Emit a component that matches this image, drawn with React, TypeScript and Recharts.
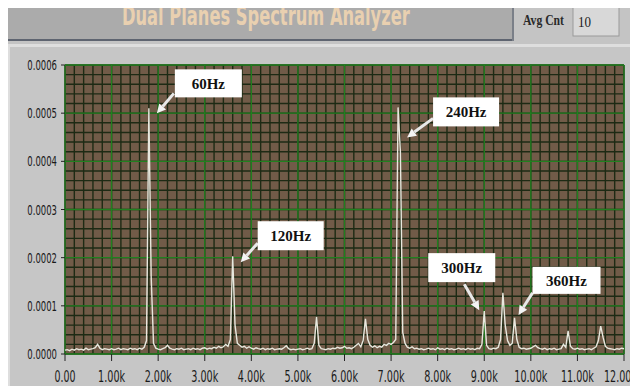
import { useLayoutEffect, useRef, useState } from "react";
import { LineChart, Line, XAxis, YAxis, CartesianGrid, ReferenceDot } from "recharts";

// spectrum sampled every 50 Hz from 0 to 12 kHz, amplitude in units of 1e-6
const STEP_HZ = 50;
const amplitudeMicro = [
  // 0 - 950
  8, 9, 7, 10, 8, 11, 9, 10, 8, 12, 9, 10, 11, 13, 20, 12, 9, 11, 10, 9,
  // 1000 - 1950
  11, 9, 10, 12, 9, 11, 10, 9, 12, 10, 11, 9, 12, 10, 14, 28, 510, 160, 22, 12,
  // 2000 - 2950
  10, 9, 11, 13, 18, 12, 10, 9, 11, 10, 12, 9, 10, 11, 9, 12, 10, 11, 9, 12,
  // 3000 - 3950
  13, 10, 12, 11, 14, 12, 16, 13, 15, 20, 16, 30, 203, 60, 22, 18, 14, 16, 12, 15,
  // 4000 - 4950
  12, 10, 13, 11, 10, 12, 9, 11, 10, 12, 9, 10, 11, 10, 13, 17, 11, 9, 10, 9,
  // 5000 - 5950
  10, 11, 9, 10, 12, 10, 11, 22, 77, 18, 11, 10, 9, 11, 10, 12, 11, 14, 12, 13,
  // 6000 - 6950
  16, 12, 13, 11, 14, 18, 22, 15, 28, 73, 30, 18, 14, 17, 13, 16, 14, 20, 18, 22,
  // 7000 - 7950
  20, 24, 30, 512, 420, 45, 22, 14, 12, 15, 11, 12, 10, 11, 9, 10, 12, 10, 11, 9,
  // 8000 - 8950
  13, 10, 11, 9, 12, 10, 11, 9, 10, 12, 10, 11, 9, 12, 10, 11, 9, 12, 11, 20,
  // 9000 - 9950
  89, 18, 11, 10, 12, 11, 14, 30, 127, 60, 28, 18, 22, 75, 30, 14, 11, 12, 10, 11,
  // 10000 - 10950
  12, 15, 18, 13, 11, 10, 12, 9, 11, 10, 12, 9, 10, 11, 20, 14, 48, 16, 11, 10,
  // 11000 - 12000
  12, 10, 11, 9, 10, 11, 9, 12, 15, 28, 58, 35, 16, 12, 11, 10, 9, 11, 10, 12, 11,
];

const xTicks = [0, 1000, 2000, 3000, 4000, 5000, 6000, 7000, 8000, 9000, 10000, 11000, 12000];
const xTickLabels = ["0.00", "1.00k", "2.00k", "3.00k", "4.00k", "5.00k", "6.00k", "7.00k", "8.00k", "9.00k", "10.00k", "11.00k", "12.00k"];
const yTicks = [0, 100, 200, 300, 400, 500, 600];
const yTickLabels = ["0.0000", "0.0001", "0.0002", "0.0003", "0.0004", "0.0005", "0.0006"];

const annotations = [
  { label: "60Hz", freq: 1800, amp: 510, box: [26, -39, 67, 28], arrow: [25, -15, 8, 5] },
  { label: "120Hz", freq: 3600, amp: 203, box: [25, -35, 66, 29], arrow: [25, -13, 8, 6] },
  { label: "240Hz", freq: 7150, amp: 512, box: [35, -10, 66, 29], arrow: [35, 11, 9, 30] },
  { label: "300Hz", freq: 9000, amp: 89, box: [-56, -58, 67, 29], arrow: [-20, -27, -5, -1] },
  { label: "360Hz", freq: 9650, amp: 75, box: [18, -51, 68, 27], arrow: [18, -25, 4, -3] },
];

const data = amplitudeMicro.map((amp, i) => ({ freq: i * STEP_HZ, amp }));

const minorX: number[] = [];
for (let v = 0; v <= 12000; v += 200) minorX.push(v);
const minorY: number[] = [];
for (let v = 0; v <= 600; v += 20) minorY.push(v);

const NARROW = "'Liberation Sans Narrow', 'DejaVu Sans Condensed', 'Liberation Sans', sans-serif";
const SERIF = "'Liberation Serif', 'DejaVu Serif', serif";

// squeezed width of a tick label, to mimic the condensed LabVIEW font
function labelWidth(s: string, digit: number) {
  let w = 0;
  for (const c of s) w += c === "." ? digit / 2 : digit;
  return w;
}

// text squeezed horizontally to a given width
function Squeezed({ x, y, width, anchor = "start", dy, children, ...rest }: any) {
  const ref = useRef<SVGTextElement>(null);
  const [sx, setSx] = useState(1);
  useLayoutEffect(() => {
    if (ref.current) {
      const len = ref.current.getComputedTextLength();
      if (len > 0) setSx(width / len);
    }
  }, [width, children]);
  return (
    <g transform={`translate(${x},${y}) scale(${sx},1)`}>
      <text ref={ref} x={0} y={0} dy={dy} textAnchor={anchor} {...rest}>
        {children}
      </text>
    </g>
  );
}

function YTick({ x, y, payload }: any) {
  const label = yTickLabels[yTicks.indexOf(payload.value)];
  return (
    <Squeezed x={x} y={y} width={labelWidth(label, 5.4)} anchor="end" dy="0.36em" fontSize={14} fontFamily={NARROW} fill="#1a1a1a">
      {label}
    </Squeezed>
  );
}

function XTick({ x, y, payload }: any) {
  const i = xTicks.indexOf(payload.value);
  const label = xTickLabels[i];
  const last = i === xTicks.length - 1;
  return (
    <Squeezed x={last ? 637 : x} y={y} width={labelWidth(label, 6)} anchor={last ? "end" : "middle"} dy="0.71em" fontSize={15} fontFamily={NARROW} fill="#1a1a1a">
      {label}
    </Squeezed>
  );
}

function Callout({ cx, cy, note }: any) {
  const [bx, by, bw, bh] = note.box;
  const [sx, sy, tx, ty] = note.arrow;
  const x1 = cx + sx, y1 = cy + sy, x2 = cx + tx, y2 = cy + ty;
  const ang = Math.atan2(y2 - y1, x2 - x1);
  const head = 9, half = 4.5;
  const hx = x2 - head * Math.cos(ang), hy = y2 - head * Math.sin(ang);
  const px = -Math.sin(ang) * half, py = Math.cos(ang) * half;
  return (
    <g>
      <line x1={x1} y1={y1} x2={hx} y2={hy} stroke="#e8e8e8" strokeWidth={3} />
      <polygon points={`${x2},${y2} ${hx + px},${hy + py} ${hx - px},${hy - py}`} fill="#f4f4f4" />
      <rect x={cx + bx} y={cy + by} width={bw} height={bh} fill="#ffffff" />
      <text x={cx + bx + bw / 2} y={cy + by + bh / 2} dy="0.35em" textAnchor="middle" fontSize={15} fontWeight="bold" fontFamily={SERIF} fill="#111">
        {note.label}
      </text>
    </g>
  );
}

export default function App() {
  return (
    <div style={{ position: "relative", width: 638, height: 386, marginLeft: -8, marginTop: -8, overflow: "hidden", background: "#f2f2f2" }}>
      <svg width={638} height={386} style={{ position: "absolute", left: 0, top: 0 }}>
        {/* header bar */}
        <rect x={8} y={2} width={630} height={44} fill="#c4c4c4" />
        <rect x={8} y={2} width={506} height={39} fill="#ababab" />
        <line x1={8} y1={40} x2={514} y2={40} stroke="#5e6470" strokeWidth={2} />
        <line x1={513} y1={2} x2={513} y2={41} stroke="#7a7f88" strokeWidth={2} />
        <Squeezed x={122} y={24.5} width={288} fontSize={27} fontWeight="bold" fontFamily={NARROW} fill="#e9d0b0">
          Dual Planes Spectrum Analyzer
        </Squeezed>
        <Squeezed x={523} y={25} width={41} fontSize={14} fontWeight="bold" fontFamily={SERIF} fill="#2a2a2a">
          Avg Cnt
        </Squeezed>
        <rect x={573} y={5} width={46} height={31} fill="#d8d8d8" stroke="#9a9a9a" strokeWidth={1} />
        <Squeezed x={578} y={27} width={13} fontSize={15} fontFamily={SERIF} fill="#1a1a1a">
          10
        </Squeezed>
        {/* graph panel */}
        <rect x={8} y={44} width={628} height={342} fill="#dedede" />
        <rect x={10} y={47} width={626} height={339} fill="#c6c6c6" />
      </svg>
      <div style={{ position: "absolute", left: 0, top: 0 }}>
        <LineChart width={638} height={386} data={data} margin={{ top: 65, right: 14, bottom: 4, left: 0 }}>
          <CartesianGrid fill="#715b48" fillOpacity={1} stroke="#1d2a14" strokeWidth={1.4} horizontalValues={minorY} verticalValues={minorX} />
          <CartesianGrid fill="none" stroke="#21801f" strokeWidth={1.3} horizontalValues={yTicks} verticalValues={xTicks} />
          <XAxis
            dataKey="freq"
            type="number"
            domain={[0, 12000]}
            ticks={xTicks}
            interval={0}
            height={28}
            axisLine={false}
            tickLine={{ stroke: "#222" }}
            tickSize={7}
            tickMargin={10}
            tick={<XTick />}
          />
          <YAxis
            type="number"
            domain={[0, 600]}
            ticks={yTicks}
            interval={0}
            width={65}
            axisLine={false}
            tickLine={{ stroke: "#222" }}
            tickSize={4}
            tickMargin={4}
            tick={<YTick />}
          />
          <Line type="linear" dataKey="amp" stroke="#e8e8de" strokeWidth={1.4} dot={false} isAnimationActive={false} />
          {annotations.map((note) => (
            <ReferenceDot key={note.label} x={note.freq} y={note.amp} r={0} shape={(p: any) => <Callout {...p} note={note} />} />
          ))}
        </LineChart>
      </div>
    </div>
  );
}
